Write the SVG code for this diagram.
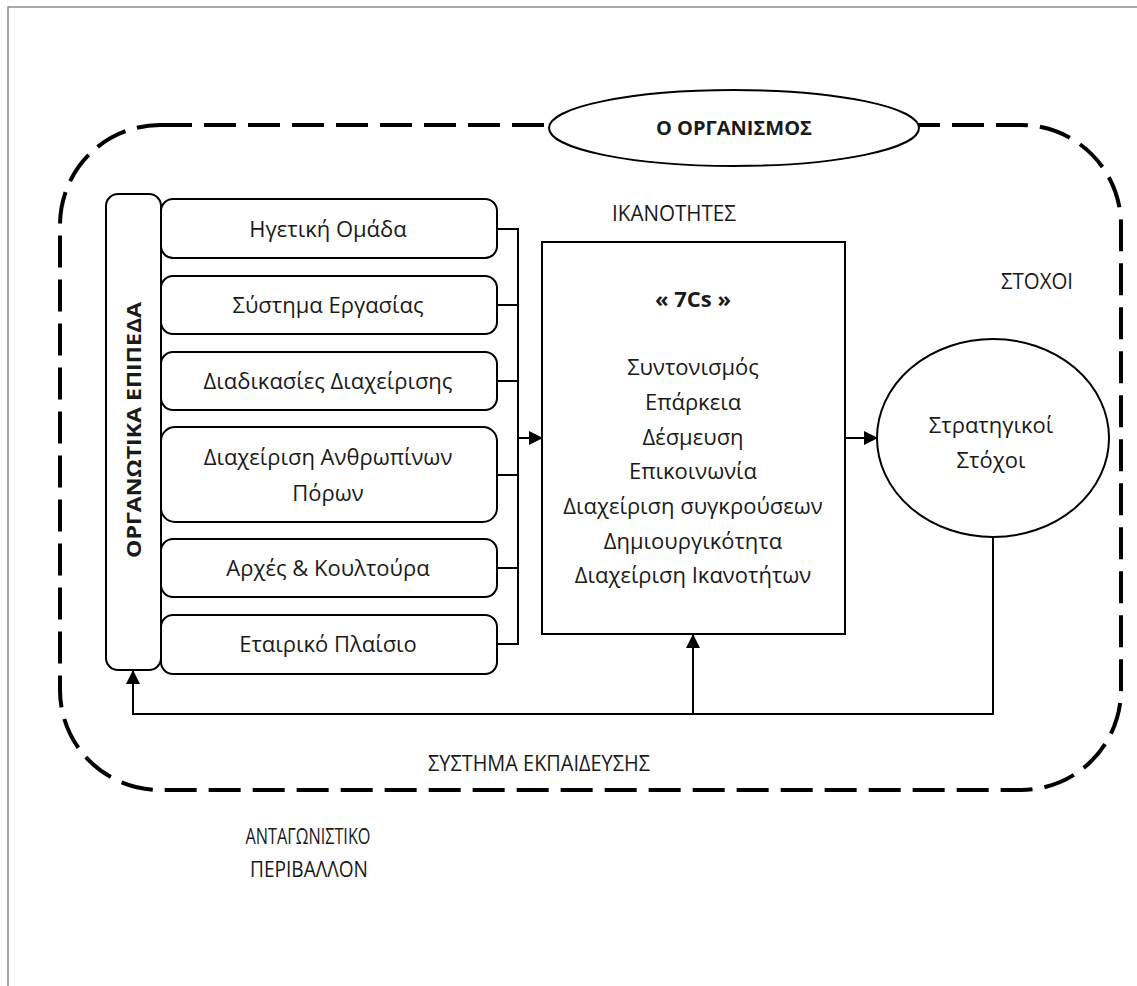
<svg xmlns="http://www.w3.org/2000/svg" width="1137" height="986" viewBox="0 0 1137 986">
<style>
text{font-family:"Open Sans","Noto Sans","DejaVu Sans",sans-serif;fill:#1a1a1a;text-anchor:middle}
.lbl{font-size:22px}
.cap{font-size:21.5px}
.bold{font-weight:bold}
.box{fill:#fff;stroke:#000;stroke-width:2}
.ln{fill:none;stroke:#000;stroke-width:2}
</style>
<defs>
<marker id="ah" markerUnits="userSpaceOnUse" markerWidth="14" markerHeight="14" refX="13" refY="7" orient="auto">
<path d="M0,0 L14,7 L0,14 Z" fill="#000"/>
</marker>
</defs>
<rect width="1137" height="986" fill="#fff"/>
<path d="M8,986 V7 H1137" fill="none" stroke="#8c8c8c" stroke-width="1.5"/>

<g id="organism-boundary">
<rect x="60" y="125" width="1061" height="665" rx="100" ry="100" fill="none" stroke="#000" stroke-width="4" stroke-dasharray="32 12"/>
</g>

<g id="organism-title">
<ellipse cx="734" cy="128" rx="185" ry="38" fill="#fff" stroke="#000" stroke-width="2"/>
<text x="734" y="135" class="bold" font-size="20">Ο ΟΡΓΑΝΙΣΜΟΣ</text>
</g>

<g id="connectors">
<path class="ln" d="M497,229 H518 M497,305 H518 M497,381 H518 M497,475 H518 M497,568 H518 M497,644 H518 M518,228 V645"/>
<path class="ln" d="M518,438 H542" marker-end="url(#ah)"/>
<path class="ln" d="M845,438 H877" marker-end="url(#ah)"/>
<path class="ln" d="M993,537 V714 H133 V671" marker-end="url(#ah)"/>
<path class="ln" d="M693,714 V635" marker-end="url(#ah)"/>
</g>

<g id="levels">
<rect class="box" x="106" y="194" width="55" height="476" rx="12"/>
<text class="bold" font-size="20" transform="translate(141,430) rotate(-90)" textLength="256" lengthAdjust="spacingAndGlyphs">ΟΡΓΑΝΩΤΙΚΑ ΕΠΙΠΕΔΑ</text>
</g>

<g id="leadership">
<rect class="box" x="161" y="199" width="336" height="59" rx="12"/>
<text class="lbl" x="328" y="237">Ηγετική Ομάδα</text>
</g>
<g id="work-system">
<rect class="box" x="161" y="276" width="336" height="58" rx="12"/>
<text class="lbl" x="328" y="313">Σύστημα Εργασίας</text>
</g>
<g id="management-processes">
<rect class="box" x="161" y="352" width="336" height="58" rx="12"/>
<text class="lbl" x="328" y="389">Διαδικασίες Διαχείρισης</text>
</g>
<g id="hr-management">
<rect class="box" x="161" y="427" width="336" height="95" rx="14"/>
<text class="lbl" x="328" y="465">Διαχείριση Ανθρωπίνων</text>
<text class="lbl" x="328" y="501">Πόρων</text>
</g>
<g id="values-culture">
<rect class="box" x="161" y="539" width="336" height="58" rx="12"/>
<text class="lbl" x="328" y="576">Αρχές &amp; Κουλτούρα</text>
</g>
<g id="corporate-framework">
<rect class="box" x="161" y="615" width="336" height="59" rx="12"/>
<text class="lbl" x="328" y="652">Εταιρικό Πλαίσιο</text>
</g>

<g id="capabilities-label">
<text class="cap" x="674" y="221" textLength="124" lengthAdjust="spacingAndGlyphs">ΙΚΑΝΟΤΗΤΕΣ</text>
</g>

<g id="capabilities-7cs">
<rect class="box" x="542" y="242" width="303" height="392"/>
<text class="bold" x="693" y="307" font-size="22">« 7Cs »</text>
<text class="lbl" x="693" y="375">Συντονισμός</text>
<text class="lbl" x="693" y="410">Επάρκεια</text>
<text class="lbl" x="693" y="445">Δέσμευση</text>
<text class="lbl" x="693" y="479">Επικοινωνία</text>
<text class="lbl" x="693" y="514">Διαχείριση συγκρούσεων</text>
<text class="lbl" x="693" y="549">Δημιουργικότητα</text>
<text class="lbl" x="693" y="583">Διαχείριση Ικανοτήτων</text>
</g>

<g id="goals-label">
<text class="cap" x="1037" y="289" textLength="72" lengthAdjust="spacingAndGlyphs">ΣΤΟΧΟΙ</text>
</g>

<g id="strategic-goals">
<ellipse cx="993" cy="438" rx="116" ry="99" fill="#fff" stroke="#000" stroke-width="2"/>
<text class="lbl" x="991" y="433">Στρατηγικοί</text>
<text class="lbl" x="991" y="468">Στόχοι</text>
</g>

<g id="training-system">
<text class="cap" x="539" y="771" textLength="222" lengthAdjust="spacingAndGlyphs">ΣΥΣΤΗΜΑ ΕΚΠΑΙΔΕΥΣΗΣ</text>
</g>

<g id="competitive-environment">
<text class="cap" x="308" y="844" textLength="125" lengthAdjust="spacingAndGlyphs">ΑΝΤΑΓΩΝΙΣΤΙΚΟ</text>
<text class="cap" x="309" y="877" textLength="118" lengthAdjust="spacingAndGlyphs">ΠΕΡΙΒΑΛΛΟΝ</text>
</g>
</svg>
